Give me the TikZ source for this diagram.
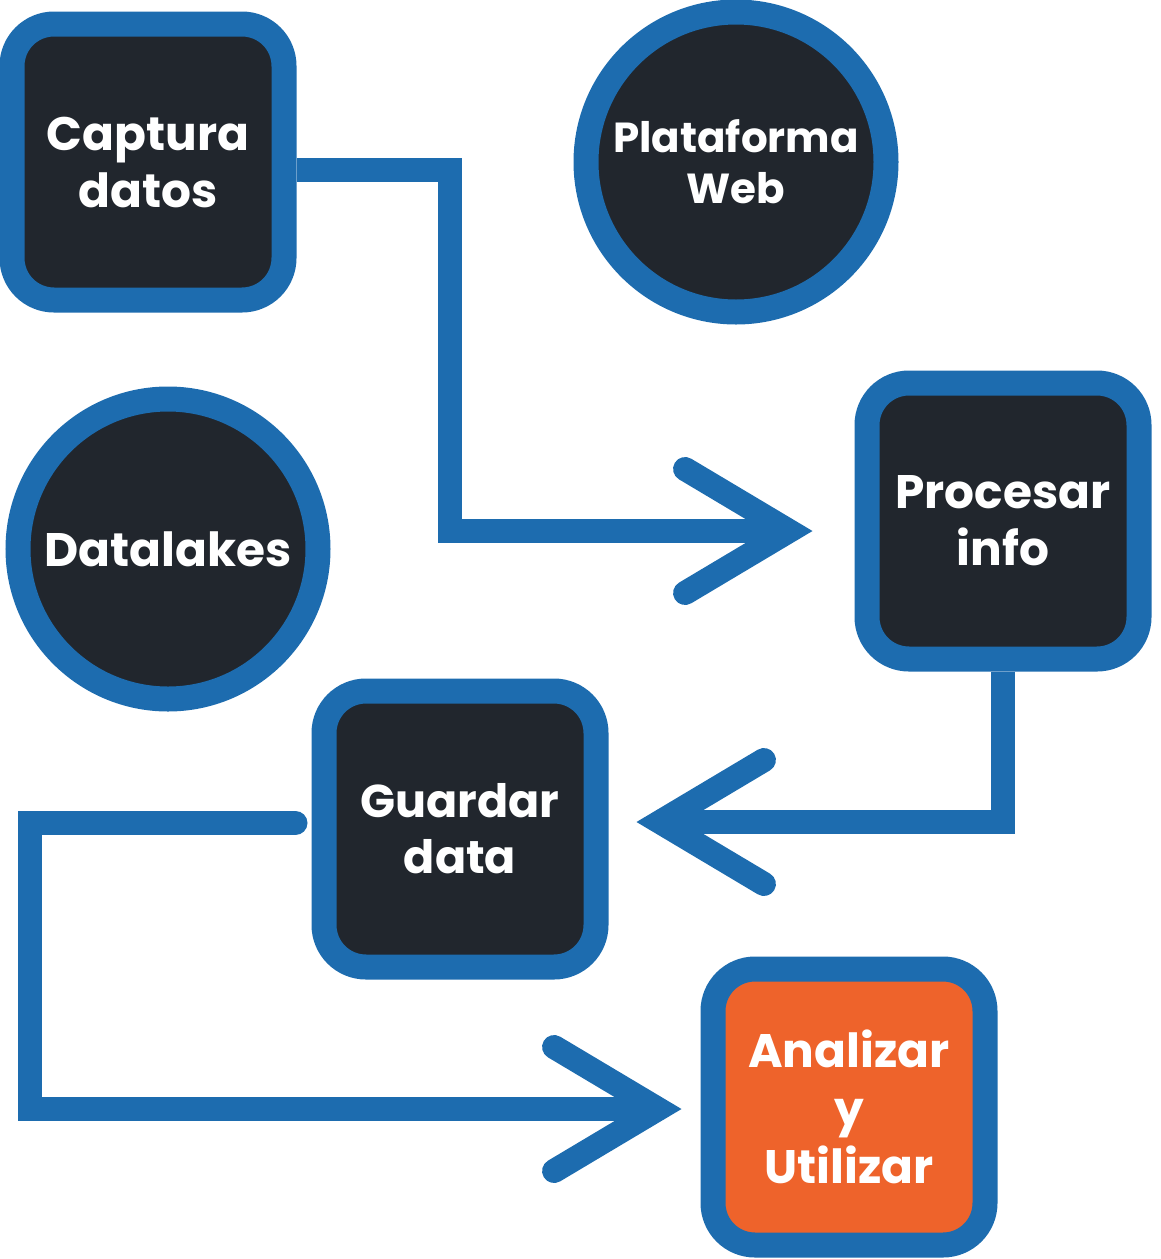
\documentclass[tikz,border=0pt]{standalone}
\usepackage{fontspec}
\setmainfont{Poppins}
\usetikzlibrary{arrows.meta}

\definecolor{borde}{RGB}{29,108,175}
\definecolor{fondo}{RGB}{33,38,45}
\definecolor{naranja}{RGB}{238,99,43}

\begin{document}
\begin{tikzpicture}[
       x=0.5pt, y=-0.5pt,
   every node/.style={draw=borde, line width=12.5pt, fill=fondo, text=white,
                      align=center, inner sep=0pt},
   box/.style={rectangle, rounded corners=21pt,
               minimum width=136pt, minimum height=138pt},
   disc/.style={circle, minimum size=150pt},
   conn/.style={draw=borde, line width=12pt, line join=miter,
       -{Straight Barb[length=52pt, width=62pt, line cap=round, line join=miter]}}]

\useasboundingbox (0,0) rectangle (1161,1259);

\node[box, font=\bfseries\fontsize{23.5}{28.5}\selectfont] (cap) at (148,162) {Captura\\datos};
\node[disc, font=\bfseries\fontsize{21}{25.5}\selectfont] (web) at (736,162) {Plataforma\\Web};
\node[disc, font=\bfseries\fontsize{23.5}{28}\selectfont] (lake) at (168,549) {Datalakes};
\node[box, font=\bfseries\fontsize{23.5}{28.5}\selectfont] (proc) at (1003,521) {Procesar\\info};
\node[box, font=\bfseries\fontsize{23}{28}\selectfont] (guard) at (460,829) {Guardar\\data};
\node[box, fill=naranja, font=\bfseries\fontsize{23.5}{29}\selectfont] (anl) at (849,1107) {Analizar\\y\\Utilizar};

% flujo
\draw[conn, shorten >=21pt] ([yshift=-4pt]cap.east) -- ++(153,0) |- ([yshift=-5pt]proc.west);
\draw[conn, shorten >=14pt] (proc.south) |- ([yshift=3.5pt]guard.east);
\draw[conn, line cap=round, shorten <=8pt, shorten >=9.5pt]
     ([yshift=3pt]guard.west) -- ++(-282,0) |- ([yshift=-1pt]anl.west);

\end{tikzpicture}
\end{document}
